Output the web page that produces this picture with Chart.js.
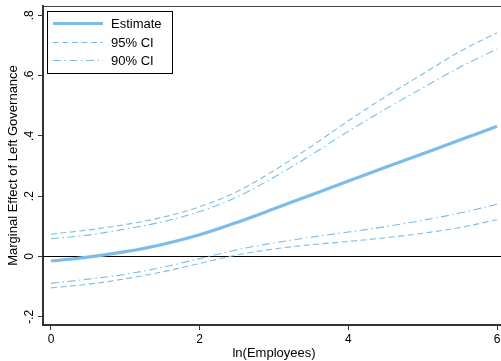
<!DOCTYPE html>
<html><head><meta charset="utf-8">
<script src="https://cdn.jsdelivr.net/npm/chart.js@4.4.1/dist/chart.umd.min.js"></script>
<style>html,body{margin:0;padding:0;overflow:hidden;background:#fff}canvas{display:block}</style>
</head><body>
<canvas id="c" width="508" height="361"></canvas>
<script>
const xValues   = [0, 0.5, 1, 1.5, 2, 2.5, 3, 3.5, 4, 4.5, 5, 5.5, 6];
const estimate  = [-0.015, -0.002, 0.016, 0.040, 0.072, 0.113, 0.158, 0.204, 0.250, 0.296, 0.341, 0.386, 0.432];
const ci95Upper = [0.074, 0.088, 0.106, 0.130, 0.165, 0.215, 0.285, 0.365, 0.450, 0.530, 0.605, 0.680, 0.742];
const ci95Lower = [-0.104, -0.092, -0.074, -0.051, -0.023, 0.005, 0.025, 0.039, 0.050, 0.062, 0.077, 0.096, 0.122];
const ci90Upper = [0.059, 0.071, 0.091, 0.115, 0.149, 0.197, 0.263, 0.337, 0.415, 0.489, 0.559, 0.628, 0.688];
const ci90Lower = [-0.089, -0.075, -0.059, -0.036, -0.007, 0.022, 0.045, 0.064, 0.081, 0.099, 0.120, 0.144, 0.173];
const xTicks = [0, 2, 4, 6];
const xTickLabels = ['0', '2', '4', '6'];
const yTicks = [-0.2, 0, 0.2, 0.4, 0.6, 0.8];
const yTickLabels = ['-.2', '0', '.2', '.4', '.6', '.8'];
const legendLabels = ['Estimate', '95% CI', '90% CI'];
const xTitle = 'ln(Employees)';
const yTitle = 'Marginal Effect of Left Governance';

const BLUE = 'rgb(125,188,233)';
const FONT = '"Liberation Sans", Arial, Helvetica, sans-serif';
const STYLES = {
  est: {width: 3.2, dash: []},
  ci95: {width: 1.1, dash: [6, 3.5]},
  ci90: {width: 1.1, dash: [8, 3.5, 1.5, 3.5]}
};
const pts = ys => xValues.map((x, i) => ({x: x, y: ys[i]}));
const ds = (label, ys, st) => ({
  label: label, data: pts(ys), borderColor: BLUE, borderWidth: st.width,
  borderDash: st.dash, pointRadius: 0, fill: false, showLine: true,
  cubicInterpolationMode: 'monotone'
});

const overlay = {
  id: 'overlay',
  beforeDatasetsDraw(chart) {
    const {ctx, chartArea: a, scales: {y}} = chart;
    const py = Math.round(y.getPixelForValue(0)) + 0.5;
    ctx.save();
    ctx.strokeStyle = '#000'; ctx.lineWidth = 1;
    ctx.beginPath(); ctx.moveTo(a.left, py); ctx.lineTo(a.right, py); ctx.stroke();
    ctx.restore();
  },
  afterDraw(chart) {
    const {ctx, chartArea: a, scales: {x, y}} = chart;
    ctx.save();
    ctx.strokeStyle = '#444'; ctx.lineWidth = 1;
    ctx.beginPath(); ctx.moveTo(a.left, a.top + 0.5); ctx.lineTo(a.right, a.top + 0.5); ctx.stroke();
    ctx.fillStyle = '#000';
    ctx.font = '12px ' + FONT;
    yTicks.forEach((v, i) => {
      const py = y.getPixelForValue(v);
      ctx.save(); ctx.translate(32.5, py); ctx.rotate(-Math.PI / 2);
      ctx.textAlign = 'center'; ctx.textBaseline = 'alphabetic';
      ctx.fillText(yTickLabels[i], 0, 0); ctx.restore();
    });
    ctx.textAlign = 'center'; ctx.textBaseline = 'middle';
    xTicks.forEach((v, i) => {
      ctx.fillText(xTickLabels[i], x.getPixelForValue(v), 339.5);
    });
    ctx.font = '13px ' + FONT;
    ctx.fillText(xTitle, (a.left + a.right) / 2, 353);
    ctx.save(); ctx.translate(16.5, (a.top + a.bottom) / 2); ctx.rotate(-Math.PI / 2);
    ctx.textAlign = 'center'; ctx.textBaseline = 'alphabetic';
    ctx.fillText(yTitle, 0, 0); ctx.restore();
    ctx.fillStyle = '#fff'; ctx.fillRect(47.5, 11.5, 125, 62);
    ctx.strokeStyle = '#000'; ctx.lineWidth = 1; ctx.setLineDash([]);
    ctx.strokeRect(47.5, 11.5, 125, 62);
    const rows = [23.5, 42.5, 60.5];
    const legendStyles = [STYLES.est, STYLES.ci95, STYLES.ci90];
    legendLabels.forEach((lab, i) => {
      const st = legendStyles[i];
      ctx.strokeStyle = BLUE; ctx.lineWidth = st.width; ctx.setLineDash(st.dash);
      ctx.beginPath(); ctx.moveTo(53, rows[i]); ctx.lineTo(103, rows[i]); ctx.stroke();
      ctx.setLineDash([]);
      ctx.fillStyle = '#000'; ctx.textAlign = 'left'; ctx.textBaseline = 'middle';
      ctx.fillText(lab, 111, rows[i] + 0.5);
    });
    ctx.restore();
  }
};

new Chart(document.getElementById('c'), {
  type: 'scatter',
  data: {
    datasets: [
      ds('Estimate', estimate, STYLES.est),
      ds('95% CI upper', ci95Upper, STYLES.ci95),
      ds('95% CI lower', ci95Lower, STYLES.ci95),
      ds('90% CI upper', ci90Upper, STYLES.ci90),
      ds('90% CI lower', ci90Lower, STYLES.ci90)
    ]
  },
  options: {
    responsive: false, animation: false, devicePixelRatio: 1,
    layout: {padding: {left: 0, top: 6, right: 3, bottom: 0}},
    plugins: {legend: {display: false}, tooltip: {enabled: false}},
    scales: {
      x: {
        type: 'linear', min: -0.1076, max: 6.1076,
        afterBuildTicks: s => { s.ticks = xTicks.map(v => ({value: v})); },
        afterFit: s => { s.height = 36; },
        ticks: {display: false},
        grid: {drawOnChartArea: false, drawTicks: true, tickLength: 5, color: '#333', lineWidth: 1},
        border: {display: true, color: '#333', width: 2}
      },
      y: {
        type: 'linear', min: -0.2272, max: 0.8308,
        afterBuildTicks: s => { s.ticks = yTicks.map(v => ({value: v})); },
        afterFit: s => { s.width = 43; },
        ticks: {display: false},
        grid: {drawOnChartArea: false, drawTicks: true, tickLength: 5, color: '#333', lineWidth: 1},
        border: {display: true, color: '#333', width: 2}
      }
    }
  },
  plugins: [overlay]
});
</script>
</body></html>
